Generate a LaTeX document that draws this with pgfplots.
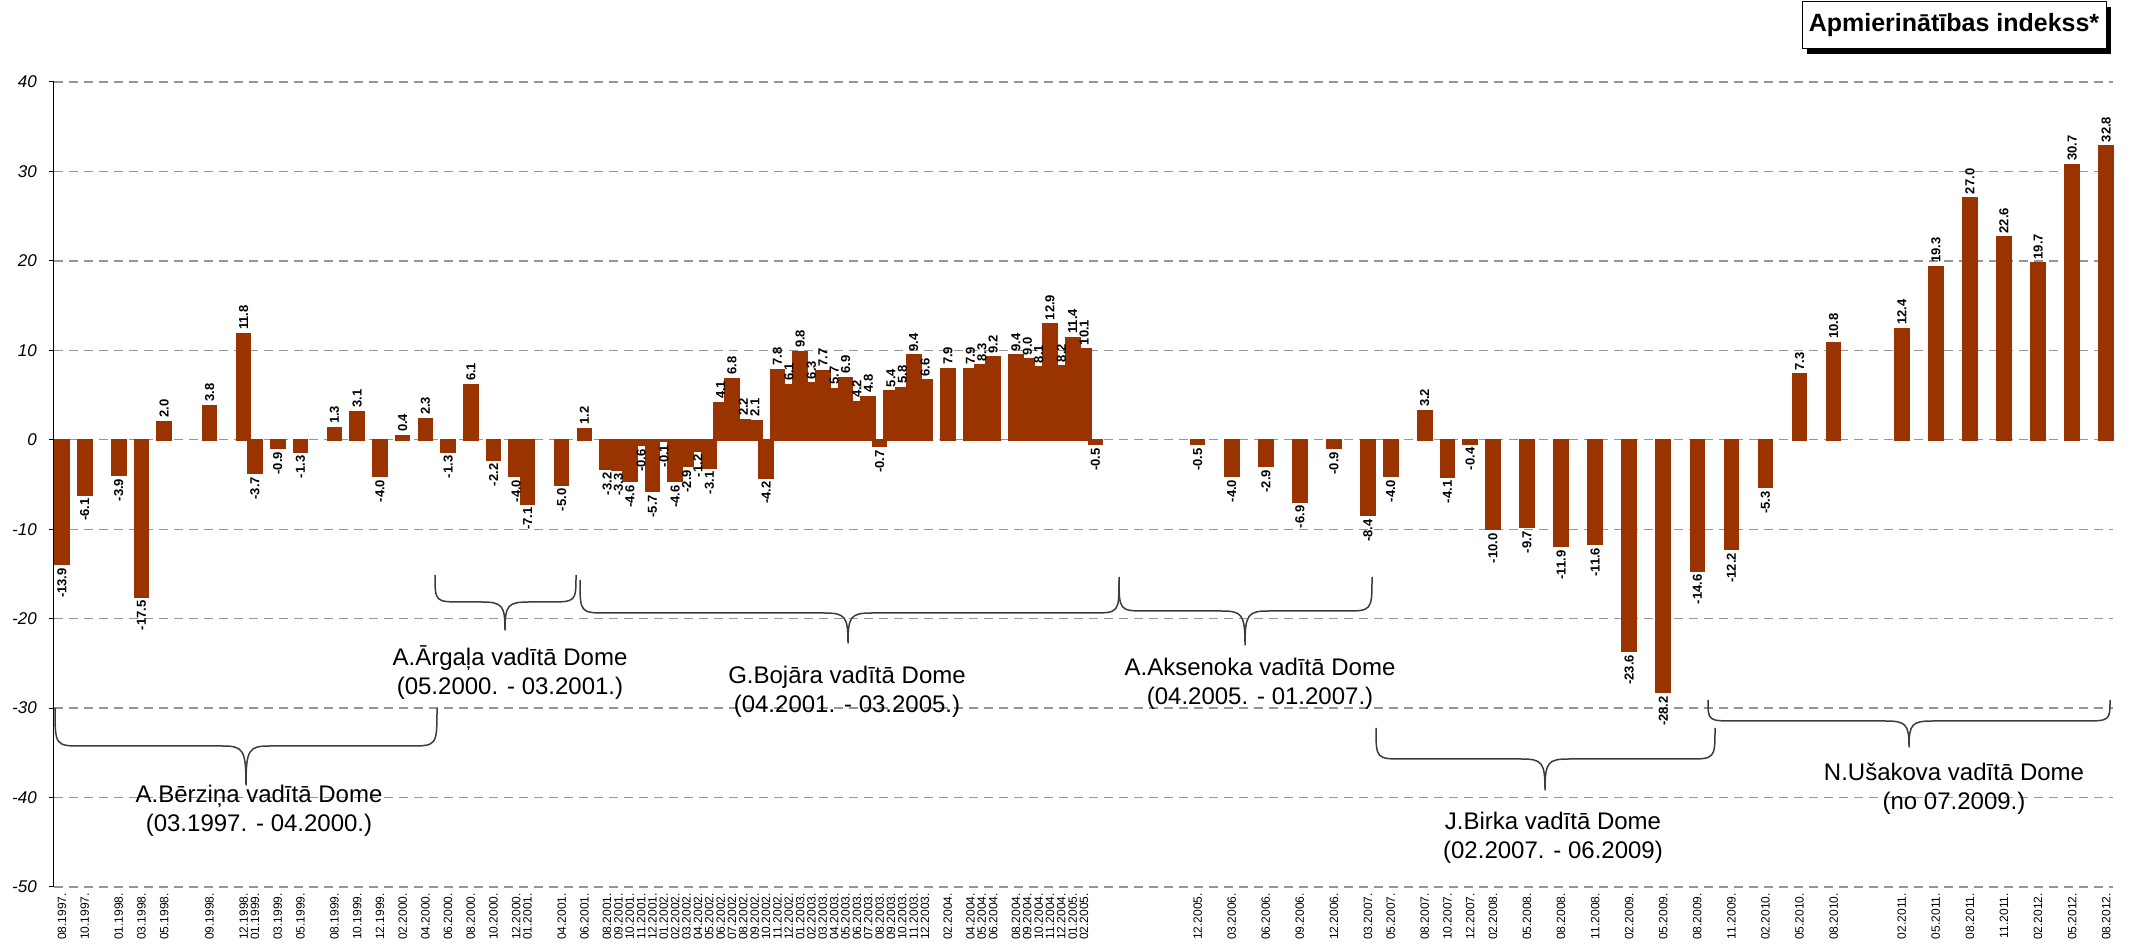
\documentclass[border=0pt]{standalone}
\usepackage{pgfplots}
\pgfplotsset{compat=1.18}
\usepackage{pgfplotstable}
\usepackage{graphicx}
\usepackage{fontspec}
\setmainfont{Liberation Sans}

\definecolor{barc}{HTML}{993300}
\definecolor{gridc}{HTML}{969696}
\definecolor{bracec}{HTML}{3C3C3C}

% m = months since 08.1997, v = index value
\pgfplotstableread{
m v
0 -13.9
2 -6.1
5 -3.9
7 -17.5
9 2.0
13 3.8
16 11.8
17 -3.7
19 -0.9
21 -1.3
24 1.3
26 3.1
28 -4.0
30 0.4
32 2.3
34 -1.3
36 6.1
38 -2.2
40 -4.0
41 -7.1
44 -5.0
46 1.2
48 -3.2
49 -3.3
50 -4.6
51 -0.6
52 -5.7
53 -0.1
54 -4.6
55 -2.9
56 -1.2
57 -3.1
58 4.1
59 6.8
60 2.2
61 2.1
62 -4.2
63 7.8
64 6.1
65 9.8
66 6.3
67 7.7
68 5.7
69 6.9
70 4.2
71 4.8
72 -0.7
73 5.4
74 5.8
75 9.4
76 6.6
78 7.9
80 7.9
81 8.3
82 9.2
84 9.4
85 9.0
86 8.1
87 12.9
88 8.2
89 11.4
90 10.1
91 -0.5
100 -0.5
103 -4.0
106 -2.9
109 -6.9
112 -0.9
115 -8.4
117 -4.0
120 3.2
122 -4.1
124 -0.4
126 -10.0
129 -9.7
132 -11.9
135 -11.6
138 -23.6
141 -28.2
144 -14.6
147 -12.2
150 -5.3
153 7.3
156 10.8
162 12.4
165 19.3
168 27.0
171 22.6
174 19.7
177 30.7
180 32.8
}\indexdata

% brace: x1, x2, y of ends, y of bar, x of tip, y of tip (picture pixels, y down)
\newcommand{\govbrace}[6]{%
  \draw[bracec, line width=1.5pt, line join=round]
    (#1,#3) .. controls (#1,#4) and (#1,#4) .. (#1+28,#4)
    -- (#5-24,#4) .. controls (#5-3,#4) and (#5,#4+3) .. (#5,#6)
    .. controls (#5,#4+3) and (#5+3,#4) .. (#5+24,#4)
    -- (#2-28,#4) .. controls (#2,#4) and (#2,#4) .. (#2,#3);}

\begin{document}
\begin{tikzpicture}
\begin{axis}[
  at={(54pt,63pt)}, anchor=south west,
  scale only axis, width=2059pt, height=805pt,
  xmin=-0.7, xmax=180.6, ymin=-50, ymax=40,
  clip=false,
  axis lines*=left,
  x axis line style={draw=none},
  y axis line style={black, line width=1pt},
  ytick={-50,-40,...,40},
  yticklabel={\pgfmathprintnumber[assume math mode=true]{\tick}},
  yticklabel style={font=\itshape\fontsize{17}{17}\selectfont, anchor=east, inner sep=0pt, xshift=-12pt},
  tick align=outside, major tick length=5pt,
  ytick style={black, line width=1pt},
  xtick style={draw=none},
  ymajorgrids=true,
  major grid style={gridc, line width=1.3pt, dash pattern=on 9pt off 6pt},
  xtick={0,2,5,7,9,13,16,17,19,21,24,26,28,30,32,34,36,38,40,41,44,46,48,49,50,51,52,53,54,55,56,57,58,59,60,61,62,63,64,65,66,67,68,69,70,71,72,73,74,75,76,78,80,81,82,84,85,86,87,88,89,90,100,103,106,109,112,115,117,120,122,124,126,129,132,135,138,141,144,147,150,153,156,162,165,168,171,174,177,180},
  xticklabels={08.1997.,10.1997.,01.1998.,03.1998.,05.1998.,09.1998.,12.1998.,01.1999.,03.1999.,05.1999.,08.1999.,10.1999.,12.1999.,02.2000.,04.2000.,06.2000.,08.2000.,10.2000.,12.2000.,01.2001.,04.2001.,06.2001.,08.2001.,09.2001.,10.2001.,11.2001.,12.2001.,01.2002.,02.2002.,03.2002.,04.2002.,05.2002.,06.2002.,07.2002.,08.2002.,09.2002.,10.2002.,11.2002.,12.2002.,01.2003.,02.2003.,03.2003.,04.2003.,05.2003.,06.2003.,07.2003.,08.2003.,09.2003.,10.2003.,11.2003.,12.2003.,02.2004.,04.2004.,05.2004.,06.2004.,08.2004.,09.2004.,10.2004.,11.2004.,12.2004.,01.2005.,02.2005.,12.2005.,03.2006.,06.2006.,09.2006.,12.2006.,03.2007.,05.2007.,08.2007.,10.2007.,12.2007.,02.2008.,05.2008.,08.2008.,11.2008.,02.2009.,05.2009.,08.2009.,11.2009.,02.2010.,05.2010.,08.2010.,02.2011.,05.2011.,08.2011.,11.2011.,02.2012.,05.2012.,08.2012.},
  xticklabel style={rotate=90, anchor=east, inner sep=1pt, font=\fontsize{12}{12}\selectfont},
]
\addplot[ybar, bar width=1.16, fill=barc, draw=barc, line width=2.5pt,
  point meta=y,
  nodes near coords={\rotatebox{90}{\pgfmathprintnumber[fixed,fixed zerofill,precision=1,assume math mode=true]{\pgfplotspointmeta}}},
  nodes near coords align={vertical},
  every node near coord/.append style={font=\bfseries\fontsize{13}{13}\selectfont, inner sep=3pt, black}]
  table[x=m, y=v] {\indexdata};
\end{axis}

\begin{scope}[x=1pt, y=-1pt, yshift=950pt]
  \path[use as bounding box] (0,0) rectangle (2131,950);
  % title box
  \fill[black] (1807,7) rectangle (2111,54);
  \node[draw=black, line width=1pt, fill=white, minimum width=304pt, minimum height=47pt, inner sep=0pt,
        font=\bfseries\fontsize{25}{25}\selectfont] at (1954,25.5) {Apmierinātības indekss*};
  % periods
  \govbrace{55}{437}{708}{746}{246}{785}
  \govbrace{435}{576}{575}{602}{505}{630}
  \govbrace{580}{1119}{580}{613}{848}{643}
  \govbrace{1119}{1372}{577}{611}{1245}{645}
  \govbrace{1376}{1715}{728}{759}{1545}{790}
  \govbrace{1708}{2110}{700}{721}{1909}{747}
  \begin{scope}[every node/.style={align=center, font=\fontsize{24}{29}\selectfont}]
    \node at (259,811) {A.Bērziņa vadītā Dome\\(03.1997. - 04.2000.)};
    \node at (510,673) {A.Ārgaļa vadītā Dome\\(05.2000. - 03.2001.)};
    \node at (847,692) {G.Bojāra vadītā Dome\\(04.2001. - 03.2005.)};
    \node at (1260,684) {A.Aksenoka vadītā Dome\\(04.2005. - 01.2007.)};
    \node at (1553,838) {J.Birka vadītā Dome\\(02.2007. - 06.2009)};
    \node at (1954,789) {N.Ušakova vadītā Dome\\(no 07.2009.)};
  \end{scope}
\end{scope}
\end{tikzpicture}
\end{document}
